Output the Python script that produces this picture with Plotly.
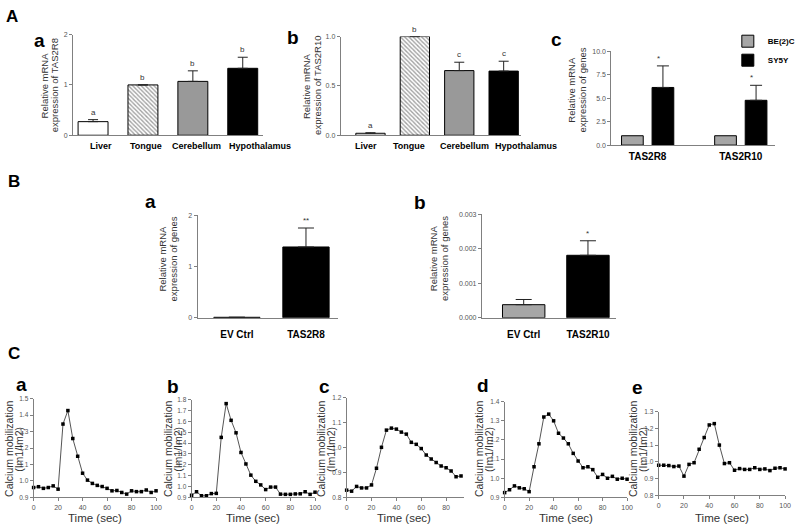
import plotly.graph_objects as go

W, H = 800, 530
FONT = "Liberation Sans, Arial, sans-serif"
AXC = "#808080"
TICKC = "#555555"


def fx(p):
    return p / W


def fy(p):
    return 1 - p / H


# ---------------- data ----------------
# A a : TAS2R8 expression in tissues
aa_cats = ["Liver", "Tongue", "Cerebellum", "Hypothalamus"]
aa_vals = [0.27, 1.00, 1.07, 1.33]
aa_err = [0.04, 0.0, 0.21, 0.22]
aa_letters = ["a", "b", "b", "b"]

# A b : TAS2R10 expression in tissues
ab_cats = ["Liver", "Tongue", "Cerebellum", "Hypothalamus"]
ab_vals = [0.02, 1.00, 0.655, 0.65]
ab_err = [0.005, 0.0, 0.085, 0.10]
ab_letters = ["a", "b", "c", "c"]

# A c : cell lines
ac_genes = ["TAS2R8", "TAS2R10"]
ac_be2c = [1.0, 1.0]
ac_sy5y = [6.15, 4.78]
ac_sy5y_err = [2.3, 1.6]
ac_stars = ["*", "*"]

# B a
ba_cats = ["EV Ctrl", "TAS2R8"]
ba_vals = [0.01, 1.38]
ba_err = [0.0, 0.37]
ba_stars = ["", "**"]

# B b
bb_cats = ["EV Ctrl", "TAS2R10"]
bb_vals = [0.00038, 0.00181]
bb_err = [0.00015, 0.00042]
bb_stars = ["", "*"]

# C : calcium mobilization time courses
time_full = [0, 4, 8, 12, 16, 20, 24, 28, 32, 36, 40, 44, 48, 52, 56, 60,
             64, 68, 72, 76, 80, 84, 88, 92, 96, 100]
time_c = [0, 4, 8, 12, 16, 20, 24, 28, 32, 36, 40, 44, 48, 52, 56, 60,
          64, 68, 72, 76, 80, 84, 88, 92]
ca_a = [0.96, 0.965, 0.955, 0.96, 0.97, 0.95, 1.346, 1.428, 1.258, 1.15, 1.047,
        1.005, 0.985, 0.973, 0.966, 0.955, 0.94, 0.942, 0.93, 0.92, 0.94, 0.935,
        0.935, 0.945, 0.93, 0.94]
ca_b = [0.92, 0.952, 0.915, 0.915, 0.935, 0.937, 1.453, 1.764, 1.61, 1.495, 1.314,
        1.208, 1.105, 1.048, 1.015, 0.972, 0.995, 0.995, 0.93, 0.928, 0.928, 0.932,
        0.933, 0.952, 0.928, 0.948]
ca_c = [0.829, 0.825, 0.844, 0.838, 0.838, 0.85, 0.917, 1.001, 1.07, 1.078, 1.074,
        1.062, 1.054, 1.021, 1.013, 0.996, 0.97, 0.954, 0.94, 0.926, 0.919, 0.906,
        0.883, 0.886]
ca_d = [0.925, 0.94, 0.96, 0.95, 0.945, 0.93, 1.06, 1.18, 1.32, 1.335, 1.3, 1.235,
        1.21, 1.18, 1.13, 1.09, 1.055, 1.06, 1.045, 1.005, 1.02, 1.0, 1.01, 0.995,
        1.0, 0.995]
ca_e = [0.98, 0.98, 0.978, 0.972, 0.975, 0.915, 0.985, 0.995, 1.075, 1.145, 1.22,
        1.228, 1.1, 0.99, 0.995, 0.95, 0.96, 0.955, 0.955, 0.965, 0.955, 0.958,
        0.948, 0.962, 0.965, 0.958]

# ---------------- figure ----------------
fig = go.Figure()
layout = dict(
    width=W, height=H, margin=dict(l=0, r=0, t=0, b=0),
    paper_bgcolor="white", plot_bgcolor="white",
    font=dict(family=FONT, color="#333"),
    barmode="overlay", showlegend=True,
    legend=dict(x=fx(735), y=fy(23), xanchor="left", yanchor="top",
                font=dict(size=8, color="black", weight="bold"),
                bgcolor="rgba(0,0,0,0)", tracegroupgap=0, itemwidth=30),
)
annotations = []


def y_axis(top, bot, anchor, rng, dtick, fmt, size=7):
    return dict(domain=[fy(bot), fy(top)], anchor=anchor, range=rng, dtick=dtick,
                tickformat=fmt, showline=True, linecolor=AXC, linewidth=1,
                ticks="outside", ticklen=3, tickcolor=AXC, tickwidth=1,
                tickfont=dict(size=size, color=TICKC), showgrid=False,
                zeroline=False, fixedrange=True)


def x_cat_axis(left, right, anchor, rng, size=9.5, standoff=0, show=True):
    return dict(domain=[fx(left), fx(right)], anchor=anchor, range=rng,
                type="category", showline=True, linecolor=AXC, linewidth=1,
                ticks="", tickangle=0, showticklabels=show, ticklabelstandoff=standoff,
                tickfont=dict(size=size, color="black", weight="bold"),
                showgrid=False, zeroline=False, fixedrange=True)


def x_num_axis(left, right, anchor, rng):
    return dict(domain=[fx(left), fx(right)], anchor=anchor, range=rng, dtick=20,
                showline=True, linecolor=AXC, linewidth=1, ticks="outside",
                ticklen=3, tickcolor=AXC, tickangle=0,
                tickfont=dict(size=7, color=TICKC),
                showgrid=False, zeroline=False, fixedrange=True)


def ytitle(lines, xs, yc, size=9.5):
    for t, x in zip(lines, xs):
        annotations.append(dict(text=t, x=fx(x), y=fy(yc), xref="paper", yref="paper",
                                xanchor="center", yanchor="middle", textangle=-90,
                                showarrow=False, font=dict(size=size, color="#333")))


def label(t, x, y, size=18):
    annotations.append(dict(text="<b>%s</b>" % t, x=fx(x), y=fy(y), xref="paper",
                            yref="paper", xanchor="center", yanchor="middle",
                            showarrow=False, font=dict(size=size, color="black")))


def marks(cats, tops, texts, xr, yr, size=8):
    for c, t, s in zip(cats, tops, texts):
        if s:
            annotations.append(dict(text=s, x=c, y=t, xref=xr, yref=yr, xanchor="center",
                                    yanchor="bottom", yshift=1, showarrow=False,
                                    font=dict(size=size, color="#333")))


def cat_labels(cats, xr, ypix, shifts, size=9):
    for c, s in zip(cats, shifts):
        annotations.append(dict(text="<b>%s</b>" % c, x=c, y=fy(ypix), xref=xr,
                                yref="paper", xanchor="center", yanchor="middle",
                                xshift=s, showarrow=False,
                                font=dict(size=size, color="black")))


def err(arr, w=5):
    return dict(type="data", array=arr, arrayminus=[0] * len(arr), symmetric=False,
                color="#222", thickness=1, width=w)


HATCH = dict(shape=["", "\\", "", ""], fgcolor="#444", size=3, solidity=0.45,
             fillmode="overlay")

# A a
fig.add_trace(go.Bar(x=aa_cats, y=aa_vals, width=0.6, xaxis="x", yaxis="y",
                     marker=dict(color=["white", "white", "#999999", "black"],
                                 line=dict(color="black", width=1), pattern=HATCH),
                     error_y=err(aa_err), showlegend=False))
layout["xaxis"] = x_cat_axis(72, 264, "y", [-0.4, 3.4], show=False)
layout["yaxis"] = y_axis(31, 133, "x", [0, 2], 1, "d")
marks(aa_cats, [v + e for v, e in zip(aa_vals, aa_err)], aa_letters, "x", "y")
cat_labels(aa_cats, "x", 144, [8, 3, 4, 17])

# A b
fig.add_trace(go.Bar(x=ab_cats, y=ab_vals, width=0.66, xaxis="x2", yaxis="y2",
                     marker=dict(color=["white", "white", "#999999", "black"],
                                 line=dict(color="black", width=1), pattern=HATCH),
                     error_y=err(ab_err), showlegend=False))
layout["xaxis2"] = x_cat_axis(343, 526, "y2", [-0.67, 3.4], show=False)
layout["yaxis2"] = y_axis(33, 133, "x2", [0, 1.0], 0.5, ".1f")
marks(ab_cats, [v + e for v, e in zip(ab_vals, ab_err)], ab_letters, "x2", "y2")
cat_labels(ab_cats, "x2", 144, [-4, -6, 5, 22])

# A c
fig.add_trace(go.Bar(x=ac_genes, y=ac_be2c, name="BE(2)C", width=0.233, offset=-0.28,
                     xaxis="x3", yaxis="y3",
                     marker=dict(color="#a6a6a6", line=dict(color="black", width=1))))
fig.add_trace(go.Bar(x=ac_genes, y=ac_sy5y, name="SY5Y", width=0.233, offset=0.048,
                     xaxis="x3", yaxis="y3",
                     marker=dict(color="black", line=dict(color="black", width=1)),
                     error_y=err(ac_sy5y_err, 6)))
layout["xaxis3"] = x_cat_axis(617, 783, "y3", [-0.39, 1.37], size=10, standoff=2)
layout["yaxis3"] = y_axis(48, 143, "x3", [0, 10], 2.5, ".1f")
for g, v, e, s in zip(ac_genes, ac_sy5y, ac_sy5y_err, ac_stars):
    annotations.append(dict(text=s, x=g, y=v + e, xref="x3", yref="y3", xanchor="center",
                            yanchor="bottom", xshift=11, yshift=1, showarrow=False,
                            font=dict(size=8, color="#333")))

# B a
fig.add_trace(go.Bar(x=ba_cats, y=ba_vals, width=0.67, xaxis="x4", yaxis="y4",
                     marker=dict(color=["#9a9a9a", "black"], line=dict(color="black", width=1)),
                     error_y=err(ba_err, 8), showlegend=False))
layout["xaxis4"] = x_cat_axis(198, 340, "y4", [-0.57, 1.46], size=10, standoff=7)
layout["yaxis4"] = y_axis(214, 318, "x4", [0, 2], 1, "d")
marks(ba_cats, [v + e for v, e in zip(ba_vals, ba_err)], ba_stars, "x4", "y4")

# B b
fig.add_trace(go.Bar(x=bb_cats, y=bb_vals, width=0.66, xaxis="x5", yaxis="y5",
                     marker=dict(color=["#a6a6a6", "black"], line=dict(color="black", width=1)),
                     error_y=err(bb_err, 8), showlegend=False))
layout["xaxis5"] = x_cat_axis(486, 622, "y5", [-0.65, 1.44], size=10, standoff=7)
layout["yaxis5"] = y_axis(213, 318, "x5", [0, 0.003], 0.001, ".3f")
marks(bb_cats, [v + e for v, e in zip(bb_vals, bb_err)], bb_stars, "x5", "y5")

# C panels
c_specs = [
    (time_full, ca_a, 32, 156, 400, 500, [0.9, 1.5], [0, 100]),
    (time_full, ca_b, 192, 317, 401, 500, [0.9, 1.8], [0, 100]),
    (time_c, ca_c, 349, 468, 399, 500, [0.8, 1.2], [0, 94.5]),
    (time_full, ca_d, 509, 633, 403, 500, [0.9, 1.4], [0, 100]),
    (time_full, ca_e, 665, 793, 413, 498, [0.8, 1.3], [0, 100]),
]
for i, (tx, ty, l, r, t, b, yr, xr) in enumerate(c_specs):
    n = 6 + i
    fig.add_trace(go.Scatter(x=tx, y=ty, mode="lines+markers", xaxis="x%d" % n,
                             yaxis="y%d" % n, cliponaxis=False, showlegend=False,
                             line=dict(color="#555", width=1),
                             marker=dict(symbol="square", size=3.5, color="black")))
    layout["xaxis%d" % n] = x_num_axis(l, r, "y%d" % n, xr)
    layout["yaxis%d" % n] = y_axis(t, b, "x%d" % n, yr, 0.1, ".1f", size=6.5)
    annotations.append(dict(text="Time (sec)", x=fx((l + r) / 2 if i != 2 else (l + 465) / 2),
                            y=fy(521), xref="paper", yref="paper", xanchor="center",
                            yanchor="middle", showarrow=False,
                            font=dict(size=11.5, color="#333")))

# y titles
ytitle(["Relative mRNA", "expression of TAS2R8"], [43, 54], 82)
ytitle(["Relative mRNA", "expression of TAS2R10"], [309, 320], 83)
ytitle(["Relative mRNA", "expression of genes"], [577, 588], 87)
ytitle(["Relative mRNA", "expression of genes"], [163, 174], 258)
ytitle(["Relative mRNA", "expression of genes"], [437, 448], 258)
for xa, xb in [(7, 17), (168, 178), (323, 333), (483, 493), (639, 649)]:
    ytitle(["Calcium mobilization", "(Im1/Im2)"], [xa, xb], 451, size=10.5)

# panel labels
label("A", 10, 13, 17)
label("B", 12, 180, 17)
label("C", 12, 354, 17)
label("a", 38, 37, 19)
label("b", 295, 34, 19)
label("c", 562, 36, 19)
label("a", 150, 200, 19)
label("b", 423, 201, 19)
label("a", 20, 386, 19)
label("b", 173, 388, 19)
label("c", 327, 388, 19)
label("d", 487, 387, 19)
label("e", 644, 389, 19)

layout["annotations"] = annotations
fig.update_layout(**layout)
fig.write_html("out.html", config={"displayModeBar": False},
               post_script="document.body.style.margin='0';document.body.style.padding='0';")
